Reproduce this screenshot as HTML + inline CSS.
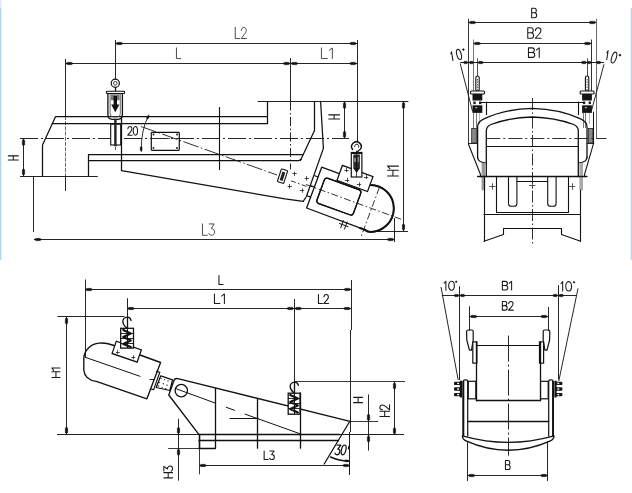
<!DOCTYPE html>
<html><head><meta charset="utf-8"><style>
html,body{margin:0;padding:0;background:#fff;}
body{width:632px;height:493px;overflow:hidden;position:relative;font-family:"Liberation Sans",sans-serif;}
svg{position:absolute;left:0;top:0;}
</style></head><body>
<svg width="632" height="493" viewBox="0 0 632 493">
<rect x="0" y="0" width="632" height="493" fill="#fff"/>
<rect x="0" y="0" width="1" height="8" fill="#dfeaf2"/>
<rect x="0" y="8" width="1" height="252" fill="#b3d4e4"/>
<rect x="1" y="0" width="1" height="260" fill="#e8f3f8"/>
<rect x="631" y="8" width="1" height="252" fill="#b8d8e7"/>
<rect x="630" y="8" width="1" height="252" fill="#eaf4f8"/>
<line x1="115.40" y1="43.50" x2="357.00" y2="43.50" stroke="#1a1a1a" stroke-width="0.95" stroke-linecap="butt"/>
<polygon points="115.70,43.50 117.40,42.23 121.20,42.23 122.60,42.99 122.60,44.01 121.20,44.77 117.40,44.77" fill="#111" stroke="#111" stroke-width="0.3" stroke-linejoin="round"/>
<polygon points="356.70,43.50 355.00,44.77 351.20,44.77 349.80,44.01 349.80,42.99 351.20,42.23 355.00,42.23" fill="#111" stroke="#111" stroke-width="0.3" stroke-linejoin="round"/>
<line x1="115.50" y1="40.00" x2="115.50" y2="79.50" stroke="#1a1a1a" stroke-width="0.95" stroke-linecap="butt"/>
<line x1="357.50" y1="40.00" x2="357.50" y2="141.50" stroke="#1a1a1a" stroke-width="0.95" stroke-linecap="butt"/>
<line x1="65.50" y1="63.50" x2="290.50" y2="63.50" stroke="#1a1a1a" stroke-width="0.95" stroke-linecap="butt"/>
<polygon points="65.80,63.50 67.50,62.23 71.30,62.23 72.70,62.99 72.70,64.01 71.30,64.77 67.50,64.77" fill="#111" stroke="#111" stroke-width="0.3" stroke-linejoin="round"/>
<polygon points="290.20,63.50 288.50,64.77 284.70,64.77 283.30,64.01 283.30,62.99 284.70,62.23 288.50,62.23" fill="#111" stroke="#111" stroke-width="0.3" stroke-linejoin="round"/>
<line x1="290.50" y1="63.50" x2="357.00" y2="63.50" stroke="#1a1a1a" stroke-width="0.95" stroke-linecap="butt"/>
<polygon points="356.70,63.50 355.00,64.77 351.20,64.77 349.80,64.01 349.80,62.99 351.20,62.23 355.00,62.23" fill="#111" stroke="#111" stroke-width="0.3" stroke-linejoin="round"/>
<polygon points="290.80,63.50 292.50,62.23 296.30,62.23 297.70,62.99 297.70,64.01 296.30,64.77 292.50,64.77" fill="#111" stroke="#111" stroke-width="0.3" stroke-linejoin="round"/>
<line x1="65.50" y1="59.00" x2="65.50" y2="116.00" stroke="#1a1a1a" stroke-width="0.95" stroke-linecap="butt"/>
<line x1="65.50" y1="116.00" x2="65.50" y2="176.00" stroke="#444" stroke-width="0.8" stroke-linecap="butt" stroke-dasharray="4 1.2"/>
<line x1="65.50" y1="176.00" x2="65.50" y2="191.00" stroke="#1a1a1a" stroke-width="0.95" stroke-linecap="butt"/>
<line x1="290.50" y1="58.00" x2="290.50" y2="101.50" stroke="#1a1a1a" stroke-width="0.95" stroke-linecap="butt"/>
<line x1="290.50" y1="101.50" x2="290.50" y2="169.50" stroke="#1a1a1a" stroke-width="0.95" stroke-linecap="butt" stroke-dasharray="9 2.5 1.5 2.5"/>
<line x1="34.00" y1="239.50" x2="394.50" y2="239.50" stroke="#1a1a1a" stroke-width="0.95" stroke-linecap="butt"/>
<polygon points="34.30,239.50 36.00,238.24 39.80,238.24 41.20,238.99 41.20,240.01 39.80,240.76 36.00,240.76" fill="#111" stroke="#111" stroke-width="0.3" stroke-linejoin="round"/>
<polygon points="394.20,239.50 392.50,240.76 388.70,240.76 387.30,240.01 387.30,238.99 388.70,238.24 392.50,238.24" fill="#111" stroke="#111" stroke-width="0.3" stroke-linejoin="round"/>
<line x1="33.50" y1="176.00" x2="33.50" y2="232.00" stroke="#1a1a1a" stroke-width="0.95" stroke-linecap="butt"/>
<line x1="394.50" y1="218.00" x2="394.50" y2="242.00" stroke="#1a1a1a" stroke-width="0.95" stroke-linecap="butt"/>
<line x1="23.50" y1="138.50" x2="23.50" y2="176.00" stroke="#1a1a1a" stroke-width="0.95" stroke-linecap="butt"/>
<polygon points="23.50,138.80 24.77,140.50 24.77,144.30 24.01,145.70 22.99,145.70 22.23,144.30 22.23,140.50" fill="#111" stroke="#111" stroke-width="0.3" stroke-linejoin="round"/>
<polygon points="23.50,175.70 22.23,174.00 22.23,170.20 22.99,168.80 24.01,168.80 24.77,170.20 24.77,174.00" fill="#111" stroke="#111" stroke-width="0.3" stroke-linejoin="round"/>
<line x1="344.50" y1="101.50" x2="344.50" y2="138.30" stroke="#1a1a1a" stroke-width="0.95" stroke-linecap="butt"/>
<polygon points="344.50,101.80 345.76,103.50 345.76,107.30 345.01,108.70 343.99,108.70 343.24,107.30 343.24,103.50" fill="#111" stroke="#111" stroke-width="0.3" stroke-linejoin="round"/>
<polygon points="344.50,138.00 343.24,136.30 343.24,132.50 343.99,131.10 345.01,131.10 345.76,132.50 345.76,136.30" fill="#111" stroke="#111" stroke-width="0.3" stroke-linejoin="round"/>
<line x1="403.50" y1="101.50" x2="403.50" y2="231.00" stroke="#1a1a1a" stroke-width="0.95" stroke-linecap="butt"/>
<polygon points="403.50,101.80 404.76,103.50 404.76,107.30 404.01,108.70 402.99,108.70 402.24,107.30 402.24,103.50" fill="#111" stroke="#111" stroke-width="0.3" stroke-linejoin="round"/>
<polygon points="403.50,230.70 402.24,229.00 402.24,225.20 402.99,223.80 404.01,223.80 404.76,225.20 404.76,229.00" fill="#111" stroke="#111" stroke-width="0.3" stroke-linejoin="round"/>
<line x1="366.00" y1="231.50" x2="408.00" y2="231.50" stroke="#1a1a1a" stroke-width="0.95" stroke-linecap="butt"/>
<line x1="20.00" y1="138.50" x2="349.00" y2="138.50" stroke="#1a1a1a" stroke-width="0.95" stroke-linecap="butt" stroke-dasharray="18 3 2 3"/>
<line x1="20.00" y1="176.50" x2="97.80" y2="176.50" stroke="#222" stroke-width="1.0" stroke-linecap="butt"/>
<polyline points="267.20,116.50 55.60,116.50 42.50,145.00 42.50,176.00" fill="none" stroke="#111" stroke-width="1.25" stroke-linejoin="round" stroke-linecap="round"/>
<line x1="52.30" y1="123.50" x2="267.20" y2="123.50" stroke="#111" stroke-width="1.25" stroke-linecap="round"/>
<polyline points="258.00,101.50 408.00,101.50" fill="none" stroke="#222" stroke-width="1.0" stroke-linejoin="round" stroke-linecap="round"/>
<line x1="267.50" y1="101.50" x2="267.50" y2="123.50" stroke="#111" stroke-width="1.25" stroke-linecap="round"/>
<polyline points="314.50,101.50 314.50,130.60 300.40,160.40" fill="none" stroke="#111" stroke-width="1.25" stroke-linejoin="round" stroke-linecap="round"/>
<polyline points="88.50,176.00 88.50,154.50 303.00,154.50" fill="none" stroke="#111" stroke-width="1.25" stroke-linejoin="round" stroke-linecap="round"/>
<polyline points="88.50,160.50 299.00,160.50 301.50,159.00" fill="none" stroke="#111" stroke-width="1.25" stroke-linejoin="round" stroke-linecap="round"/>
<polyline points="320.60,101.50 323.40,148.40 306.40,196.50 303.20,201.40" fill="none" stroke="#111" stroke-width="1.25" stroke-linejoin="round" stroke-linecap="round"/>
<polyline points="121.50,116.30 121.50,170.60 285.00,198.90 303.20,201.40" fill="none" stroke="#111" stroke-width="1.25" stroke-linejoin="round" stroke-linecap="round"/>
<line x1="219.50" y1="107.50" x2="219.50" y2="169.50" stroke="#111" stroke-width="1.1" stroke-linecap="round"/>
<g transform="translate(371.5,207.5) rotate(20)" fill="none" stroke="#111" stroke-width="1.25" stroke-linejoin="round">
<rect x="-53.8" y="-12.5" width="38.8" height="26.8" rx="3"/>
<path d="M-64.7,-10.5 H-60.6 M-64.7,0.2 H-60.6 M-64.7,11 H-60.6" stroke-width="1.1"/>
<path d="M-22,21.5 V30 M-18,21.5 V30 M-25,26 H-15" stroke-width="0.9"/>
</g>
<path d="M339.9,173.8 L321.7,167.2 L306.6,208 L364.5,229.6 Q367.5,231.9 370.3,231.9 A23.5,23.5 0 0 0 393.8,208.4 A23.5,23.5 0 0 0 370.3,184.9" fill="none" stroke="#111" stroke-width="1.3" stroke-linejoin="round" stroke-linecap="round"/>
<path d="M360,228 L364.5,229.6 Q367.5,231.9 370.3,231.9 A23.5,23.5 0 0 0 393.8,208.4 A23.5,23.5 0 0 0 370.3,184.9" fill="none" stroke="#111" stroke-width="2.0" stroke-linejoin="round" stroke-linecap="round"/>
<g transform="translate(371.5,207.5) rotate(20)"><rect x="-41.7" y="-29.6" width="32.5" height="16.0" fill="#fff" stroke="#111" stroke-width="1.25"/><rect x="-53.8" y="-12.5" width="38.8" height="26.8" rx="3" fill="none" stroke="#111" stroke-width="1.25"/></g>
<line x1="306.00" y1="184.50" x2="401.00" y2="219.20" stroke="#1a1a1a" stroke-width="0.9" stroke-linecap="butt" stroke-dasharray="7 2.5 1.5 2.5"/>
<line x1="379.30" y1="187.60" x2="360.80" y2="237.50" stroke="#1a1a1a" stroke-width="0.9" stroke-linecap="butt" stroke-dasharray="7 2.5 1.5 2.5"/>
<line x1="344.30" y1="170.50" x2="348.70" y2="170.50" stroke="#222" stroke-width="0.8" stroke-linecap="butt"/>
<line x1="346.50" y1="167.80" x2="346.50" y2="172.20" stroke="#222" stroke-width="0.8" stroke-linecap="butt"/>
<line x1="344.80" y1="180.50" x2="349.20" y2="180.50" stroke="#222" stroke-width="0.8" stroke-linecap="butt"/>
<line x1="347.50" y1="177.80" x2="347.50" y2="182.20" stroke="#222" stroke-width="0.8" stroke-linecap="butt"/>
<line x1="356.80" y1="184.50" x2="361.20" y2="184.50" stroke="#222" stroke-width="0.8" stroke-linecap="butt"/>
<line x1="359.50" y1="182.30" x2="359.50" y2="186.70" stroke="#222" stroke-width="0.8" stroke-linecap="butt"/>
<line x1="363.80" y1="177.50" x2="368.20" y2="177.50" stroke="#222" stroke-width="0.8" stroke-linecap="butt"/>
<line x1="366.50" y1="174.80" x2="366.50" y2="179.20" stroke="#222" stroke-width="0.8" stroke-linecap="butt"/>
<path d="M352.6,149.5 A4.8,4.8 0 1,1 360.6,149 Q358.4,150.6 356.8,152.5" fill="none" stroke="#111" stroke-width="1.45" stroke-linejoin="round" stroke-linecap="round"/>
<path d="M354.6,146.4 A2.1,2.1 0 1,1 358.6,147.2" fill="none" stroke="#111" stroke-width="1.0" stroke-linejoin="round" stroke-linecap="round"/>
<rect x="351.3" y="152.5" width="10.6" height="24.5" fill="#fff" stroke="#111" stroke-width="1.2"/>
<rect x="351.3" y="152" width="10.6" height="2" fill="#111"/>
<rect x="353.3" y="154.5" width="6.6" height="14" fill="#2a2a2a"/>
<rect x="354.2" y="158" width="1.6" height="4" fill="#999"/>
<rect x="357.6" y="157" width="1.4" height="5" fill="#888"/>
<path d="M353.3,168 L356.6,173 L359.9,168 Z" fill="#111"/>
<line x1="356.50" y1="150.50" x2="356.50" y2="177.00" stroke="#111" stroke-width="0.8" stroke-linecap="butt"/>
<line x1="292.40" y1="173.50" x2="296.80" y2="173.50" stroke="#222" stroke-width="0.8" stroke-linecap="butt"/>
<line x1="294.50" y1="171.60" x2="294.50" y2="176.00" stroke="#222" stroke-width="0.8" stroke-linecap="butt"/>
<line x1="304.60" y1="178.50" x2="309.00" y2="178.50" stroke="#222" stroke-width="0.8" stroke-linecap="butt"/>
<line x1="306.50" y1="176.20" x2="306.50" y2="180.60" stroke="#222" stroke-width="0.8" stroke-linecap="butt"/>
<line x1="287.60" y1="186.50" x2="292.00" y2="186.50" stroke="#222" stroke-width="0.8" stroke-linecap="butt"/>
<line x1="289.50" y1="184.20" x2="289.50" y2="188.60" stroke="#222" stroke-width="0.8" stroke-linecap="butt"/>
<line x1="299.80" y1="190.50" x2="304.20" y2="190.50" stroke="#222" stroke-width="0.8" stroke-linecap="butt"/>
<line x1="302.50" y1="188.40" x2="302.50" y2="192.80" stroke="#222" stroke-width="0.8" stroke-linecap="butt"/>
<g transform="translate(282.5,176.2) rotate(18)"><rect x="-3.3" y="-6.7" width="6.6" height="13.4" rx="0.8" fill="#fff" stroke="#111" stroke-width="1.1"/><rect x="-1.5" y="-4.5" width="3" height="9" fill="#222"/></g>
<line x1="141.00" y1="126.50" x2="277.00" y2="175.00" stroke="#1a1a1a" stroke-width="0.9" stroke-linecap="butt" stroke-dasharray="16 2.5 1.5 2.5"/>
<line x1="291.00" y1="180.80" x2="309.00" y2="187.30" stroke="#1a1a1a" stroke-width="0.9" stroke-linecap="butt" stroke-dasharray="5 2.5 1.5 2.5"/>
<path d="M148.8,115 Q140.5,131 141.3,151.3" fill="none" stroke="#1a1a1a" stroke-width="0.9" stroke-linejoin="round" stroke-linecap="round"/>
<polygon points="141.29,151.20 140.24,150.22 140.12,147.69 140.66,146.73 141.46,146.69 142.10,147.59 142.22,150.12" fill="#111" stroke="#111" stroke-width="0.3" stroke-linejoin="round"/>
<polygon points="148.48,115.77 149.07,116.88 148.23,118.73 147.39,119.16 146.66,118.84 146.43,117.91 147.26,116.07" fill="#111" stroke="#111" stroke-width="0.3" stroke-linejoin="round"/>
<rect x="151.3" y="132.3" width="28" height="18" rx="0.8" fill="none" stroke="#111" stroke-width="1.2"/>
<circle cx="153.5" cy="134.5" r="1.0" fill="#222"/>
<circle cx="177" cy="134.5" r="1.0" fill="#222"/>
<circle cx="153.5" cy="148" r="1.0" fill="#222"/>
<circle cx="177" cy="148" r="1.0" fill="#222"/>
<line x1="153.00" y1="138.50" x2="177.00" y2="138.50" stroke="#333" stroke-width="0.7" stroke-linecap="butt" stroke-dasharray="6 2 1 2"/>
<circle cx="115.30" cy="83.30" r="4.10" fill="none" stroke="#111" stroke-width="1.2"/>
<circle cx="115.30" cy="83.30" r="1.80" fill="none" stroke="#111" stroke-width="0.8"/>
<line x1="115.50" y1="87.40" x2="115.50" y2="91.20" stroke="#111" stroke-width="1.3" stroke-linecap="butt"/>
<rect x="106.4" y="91.2" width="18.2" height="2.3" rx="0.8" fill="#fff" stroke="#111" stroke-width="1.1"/>
<path d="M107.9,93.5 V114.8 Q107.9,119.3 112.2,119.3 H118.2 Q122.4,119.3 122.4,114.8 V93.5" fill="none" stroke="#111" stroke-width="1.3"/>
<path d="M110.1,93.5 V113.8 Q110.1,116.9 113.2,116.9 H117.3 Q120.3,116.9 120.3,113.8 V93.5" fill="none" stroke="#444" stroke-width="0.8"/>
<rect x="111" y="94.3" width="8.6" height="6" fill="#777"/>
<rect x="113.6" y="96" width="3.4" height="9.5" fill="#111"/>
<path d="M111.2,104.6 L119.4,104.6 L115.3,112.2 Z" fill="#111"/>
<rect x="110.7" y="124.2" width="10" height="20.8" fill="#fff" stroke="#111" stroke-width="1.1"/>
<rect x="114.2" y="118.8" width="2.4" height="27.5" fill="#222"/>
<line x1="115.50" y1="147.00" x2="115.50" y2="150.00" stroke="#333" stroke-width="0.8" stroke-linecap="butt"/>
<g transform="translate(240.85,32.95) rotate(0) scale(0.889,1.120) skewX(0) translate(-6.30,-5.00)" fill="none" stroke="#404040" stroke-width="0.95" stroke-linecap="round" stroke-linejoin="round" vector-effect="non-scaling-stroke"><path vector-effect="non-scaling-stroke" transform="translate(0.00,0)" d="M0,0 V10 H5"/><path vector-effect="non-scaling-stroke" transform="translate(6.60,0)" d="M0.2,2.7 C0.4,1 1.5,0 3,0 C4.6,0 5.8,1.1 5.8,2.7 C5.8,4 5,5 3.8,6.2 L0,10 H6"/></g>
<g transform="translate(178.50,53.25) rotate(0) scale(0.820,1.060) skewX(0) translate(-2.50,-5.00)" fill="none" stroke="#404040" stroke-width="0.95" stroke-linecap="round" stroke-linejoin="round" vector-effect="non-scaling-stroke"><path vector-effect="non-scaling-stroke" transform="translate(0.00,0)" d="M0,0 V10 H5"/></g>
<g transform="translate(327.25,53.25) rotate(0) scale(1.184,1.060) skewX(0) translate(-4.90,-5.00)" fill="none" stroke="#404040" stroke-width="0.95" stroke-linecap="round" stroke-linejoin="round" vector-effect="non-scaling-stroke"><path vector-effect="non-scaling-stroke" transform="translate(0.00,0)" d="M0,0 V10 H5"/><path vector-effect="non-scaling-stroke" transform="translate(6.60,0)" d="M0,2.2 L2.6,0 V10"/></g>
<g transform="translate(13.30,157.95) rotate(-90) scale(0.700,1.010) skewX(0) translate(-3.00,-5.00)" fill="none" stroke="#1a1a1a" stroke-width="1.05" stroke-linecap="round" stroke-linejoin="round" vector-effect="non-scaling-stroke"><path vector-effect="non-scaling-stroke" transform="translate(0.00,0)" d="M0,0 V10 M6,0 V10 M0,5 H6"/></g>
<g transform="translate(132.65,130.80) rotate(0) scale(0.721,0.870) skewX(0) translate(-6.80,-5.00)" fill="none" stroke="#1a1a1a" stroke-width="1.05" stroke-linecap="round" stroke-linejoin="round" vector-effect="non-scaling-stroke"><path vector-effect="non-scaling-stroke" transform="translate(0.00,0)" d="M0.2,2.7 C0.4,1 1.5,0 3,0 C4.6,0 5.8,1.1 5.8,2.7 C5.8,4 5,5 3.8,6.2 L0,10 H6"/><path vector-effect="non-scaling-stroke" transform="translate(7.60,0)" d="M3,0 C4.8,0 6,2.2 6,5 C6,7.8 4.8,10 3,10 C1.2,10 0,7.8 0,5 C0,2.2 1.2,0 3,0 Z"/></g>
<g transform="translate(334.15,116.90) rotate(-90) scale(0.683,1.080) skewX(0) translate(-3.00,-5.00)" fill="none" stroke="#1a1a1a" stroke-width="1.05" stroke-linecap="round" stroke-linejoin="round" vector-effect="non-scaling-stroke"><path vector-effect="non-scaling-stroke" transform="translate(0.00,0)" d="M0,0 V10 M6,0 V10 M0,5 H6"/></g>
<g transform="translate(392.95,170.75) rotate(-90) scale(0.963,1.080) skewX(0) translate(-5.40,-5.00)" fill="none" stroke="#1a1a1a" stroke-width="1.05" stroke-linecap="round" stroke-linejoin="round" vector-effect="non-scaling-stroke"><path vector-effect="non-scaling-stroke" transform="translate(0.00,0)" d="M0,0 V10 M6,0 V10 M0,5 H6"/><path vector-effect="non-scaling-stroke" transform="translate(7.60,0)" d="M0,2.2 L2.6,0 V10"/></g>
<g transform="translate(208.50,229.60) rotate(0) scale(0.960,1.130) skewX(0) translate(-6.30,-5.00)" fill="none" stroke="#404040" stroke-width="0.95" stroke-linecap="round" stroke-linejoin="round" vector-effect="non-scaling-stroke"><path vector-effect="non-scaling-stroke" transform="translate(0.00,0)" d="M0,0 V10 H5"/><path vector-effect="non-scaling-stroke" transform="translate(6.60,0)" d="M0.4,0 H5.6 L2.6,4.1 C4.7,4.1 6,5.4 6,7.2 C6,8.9 4.8,10 3,10 C1.6,10 0.6,9.4 0,8.4"/></g>
<line x1="468.50" y1="22.50" x2="596.30" y2="22.50" stroke="#1a1a1a" stroke-width="0.95" stroke-linecap="butt"/>
<polygon points="468.80,22.50 470.50,21.23 474.30,21.23 475.70,21.99 475.70,23.01 474.30,23.77 470.50,23.77" fill="#111" stroke="#111" stroke-width="0.3" stroke-linejoin="round"/>
<polygon points="596.00,22.50 594.30,23.77 590.50,23.77 589.10,23.01 589.10,21.99 590.50,21.23 594.30,21.23" fill="#111" stroke="#111" stroke-width="0.3" stroke-linejoin="round"/>
<line x1="468.50" y1="18.70" x2="468.50" y2="144.20" stroke="#222" stroke-width="0.9" stroke-linecap="butt"/>
<line x1="596.50" y1="18.70" x2="596.50" y2="139.00" stroke="#444" stroke-width="0.8" stroke-linecap="butt"/>
<line x1="473.30" y1="43.50" x2="591.40" y2="43.50" stroke="#1a1a1a" stroke-width="0.95" stroke-linecap="butt"/>
<polygon points="473.60,43.50 475.30,42.23 479.10,42.23 480.50,42.99 480.50,44.01 479.10,44.77 475.30,44.77" fill="#111" stroke="#111" stroke-width="0.3" stroke-linejoin="round"/>
<polygon points="591.10,43.50 589.40,44.77 585.60,44.77 584.20,44.01 584.20,42.99 585.60,42.23 589.40,42.23" fill="#111" stroke="#111" stroke-width="0.3" stroke-linejoin="round"/>
<line x1="473.50" y1="39.50" x2="473.50" y2="91.00" stroke="#555" stroke-width="0.8" stroke-linecap="butt"/>
<line x1="591.50" y1="39.50" x2="591.50" y2="91.00" stroke="#1a1a1a" stroke-width="0.9" stroke-linecap="butt"/>
<line x1="460.20" y1="62.50" x2="604.00" y2="62.50" stroke="#1a1a1a" stroke-width="0.95" stroke-linecap="butt"/>
<polygon points="468.00,62.50 466.97,63.77 464.43,63.77 463.50,63.01 463.50,61.99 464.43,61.23 466.97,61.23" fill="#111" stroke="#111" stroke-width="0.3" stroke-linejoin="round"/>
<polygon points="469.10,62.50 470.13,61.23 472.67,61.23 473.60,61.99 473.60,63.01 472.67,63.77 470.13,63.77" fill="#111" stroke="#111" stroke-width="0.3" stroke-linejoin="round"/>
<polygon points="477.80,62.50 479.10,61.23 482.14,61.23 483.26,61.99 483.26,63.01 482.14,63.77 479.10,63.77" fill="#111" stroke="#111" stroke-width="0.3" stroke-linejoin="round"/>
<polygon points="586.80,62.50 585.50,63.77 582.46,63.77 581.34,63.01 581.34,61.99 582.46,61.23 585.50,61.23" fill="#111" stroke="#111" stroke-width="0.3" stroke-linejoin="round"/>
<polygon points="591.30,62.50 590.27,63.77 587.73,63.77 586.80,63.01 586.80,61.99 587.73,61.23 590.27,61.23" fill="#111" stroke="#111" stroke-width="0.3" stroke-linejoin="round"/>
<polygon points="596.30,62.50 597.33,61.23 599.87,61.23 600.80,61.99 600.80,63.01 599.87,63.77 597.33,63.77" fill="#111" stroke="#111" stroke-width="0.3" stroke-linejoin="round"/>
<line x1="460.20" y1="63.50" x2="472.60" y2="111.50" stroke="#1a1a1a" stroke-width="0.95" stroke-linecap="butt"/>
<line x1="604.00" y1="64.30" x2="591.40" y2="111.00" stroke="#1a1a1a" stroke-width="0.95" stroke-linecap="butt"/>
<line x1="532.50" y1="98.00" x2="532.50" y2="244.00" stroke="#1a1a1a" stroke-width="0.9" stroke-linecap="butt" stroke-dasharray="12 2.5 1.5 2.5"/>
<line x1="477.50" y1="58.30" x2="477.50" y2="76.50" stroke="#222" stroke-width="0.8" stroke-linecap="butt"/>
<rect x="475.80" y="76" width="3.4" height="15.2" rx="1.7" fill="#fff" stroke="#111" stroke-width="1.1"/>
<line x1="477.50" y1="79" x2="477.50" y2="90" stroke="#333" stroke-width="0.8" stroke-dasharray="1.5 1"/>
<rect x="470.50" y="91" width="14" height="3" rx="1" fill="#fff" stroke="#111" stroke-width="1.1"/>
<rect x="472.50" y="94" width="9.8" height="6.5" fill="#151515"/>
<rect x="473.30" y="101.5" width="2.4" height="2.6" fill="#222"/>
<rect x="479.00" y="101.5" width="2.4" height="2.6" fill="#222"/>
<rect x="472.50" y="105.3" width="9.8" height="7.6" fill="#151515"/>
<rect x="475.30" y="107" width="2" height="1.3" fill="#aaa"/>
<line x1="473.50" y1="113.00" x2="473.50" y2="128.00" stroke="#555" stroke-width="0.8" stroke-linecap="butt"/>
<line x1="476.50" y1="113.00" x2="476.50" y2="128.00" stroke="#555" stroke-width="0.8" stroke-linecap="butt"/>
<line x1="479.50" y1="113.00" x2="479.50" y2="124.00" stroke="#888" stroke-width="0.6" stroke-linecap="butt"/>
<line x1="587.50" y1="58.30" x2="587.50" y2="76.50" stroke="#222" stroke-width="0.8" stroke-linecap="butt"/>
<rect x="585.40" y="76" width="3.4" height="15.2" rx="1.7" fill="#fff" stroke="#111" stroke-width="1.1"/>
<line x1="587.10" y1="79" x2="587.10" y2="90" stroke="#333" stroke-width="0.8" stroke-dasharray="1.5 1"/>
<rect x="580.10" y="91" width="14" height="3" rx="1" fill="#fff" stroke="#111" stroke-width="1.1"/>
<rect x="582.10" y="94" width="9.8" height="6.5" fill="#151515"/>
<rect x="582.90" y="101.5" width="2.4" height="2.6" fill="#222"/>
<rect x="588.60" y="101.5" width="2.4" height="2.6" fill="#222"/>
<rect x="582.10" y="105.3" width="9.8" height="7.6" fill="#151515"/>
<rect x="584.90" y="107" width="2" height="1.3" fill="#aaa"/>
<line x1="583.50" y1="113.00" x2="583.50" y2="128.00" stroke="#555" stroke-width="0.8" stroke-linecap="butt"/>
<line x1="585.50" y1="113.00" x2="585.50" y2="128.00" stroke="#555" stroke-width="0.8" stroke-linecap="butt"/>
<line x1="589.50" y1="113.00" x2="589.50" y2="124.00" stroke="#888" stroke-width="0.6" stroke-linecap="butt"/>
<line x1="480.50" y1="102.50" x2="584.20" y2="102.50" stroke="#111" stroke-width="1.1" stroke-linecap="round"/>
<line x1="486.50" y1="102.00" x2="486.50" y2="114.50" stroke="#111" stroke-width="1.1" stroke-linecap="round"/>
<line x1="578.50" y1="102.00" x2="578.50" y2="114.50" stroke="#111" stroke-width="1.1" stroke-linecap="round"/>
<path d="M477.6,158 V127 Q477.6,121.5 484,118.8 Q505,109 532.3,108.3 Q559.5999999999999,109 580.5999999999999,118.8 Q586.9999999999999,121.5 586.9999999999999,127 V158" fill="none" stroke="#111" stroke-width="1.3" stroke-linejoin="round" stroke-linecap="round"/>
<path d="M486.3,176.5 V131 Q486.3,126.5 491,124.5 Q510,117.5 532.3,117 Q554.5999999999999,117.5 573.5999999999999,124.5 Q578.3,126.5 578.3,131 V176.5" fill="none" stroke="#111" stroke-width="1.3" stroke-linejoin="round" stroke-linecap="round"/>
<path d="M477.6,157 Q477.8,162.5 485.4,162.8" fill="none" stroke="#111" stroke-width="1.1" stroke-linejoin="round" stroke-linecap="round"/>
<path d="M586.9999999999999,157 Q586.8,162.5 579.1999999999999,162.8" fill="none" stroke="#111" stroke-width="1.1" stroke-linejoin="round" stroke-linecap="round"/>
<polyline points="468.50,144.20 480.50,174.50 480.50,176.80" fill="none" stroke="#111" stroke-width="1.1" stroke-linejoin="round" stroke-linecap="round"/>
<polyline points="593.50,112.00 593.50,143.60 584.50,174.50 584.50,176.80" fill="none" stroke="#111" stroke-width="1.05" stroke-linejoin="round" stroke-linecap="round"/>
<line x1="468.50" y1="143.50" x2="477.60" y2="143.50" stroke="#111" stroke-width="0.9" stroke-linecap="round"/>
<line x1="593.80" y1="143.50" x2="587.00" y2="143.50" stroke="#111" stroke-width="0.9" stroke-linecap="round"/>
<rect x="471.70" y="128.4" width="4.6" height="14.5" fill="#888" stroke="#222" stroke-width="0.8"/>
<rect x="588.30" y="128.4" width="4.6" height="14.5" fill="#888" stroke="#222" stroke-width="0.8"/>
<rect x="481.6" y="162.8" width="3.6" height="27.5" fill="#999"/>
<rect x="579.40" y="162.8" width="3.6" height="27.5" fill="#aaa"/>
<line x1="486.30" y1="138.50" x2="606.50" y2="138.50" stroke="#1a1a1a" stroke-width="0.9" stroke-linecap="butt" stroke-dasharray="14 3 2 3"/>
<line x1="486.30" y1="146.50" x2="578.30" y2="146.50" stroke="#111" stroke-width="1.1" stroke-linecap="round"/>
<line x1="477.60" y1="176.50" x2="587.00" y2="176.50" stroke="#111" stroke-width="1.3" stroke-linecap="round"/>
<line x1="484.50" y1="176.70" x2="484.50" y2="241.20" stroke="#111" stroke-width="1.1" stroke-linecap="round"/>
<line x1="580.50" y1="190.00" x2="580.50" y2="241.20" stroke="#111" stroke-width="1.1" stroke-linecap="round"/>
<line x1="484.00" y1="214.50" x2="580.60" y2="214.50" stroke="#111" stroke-width="1.1" stroke-linecap="round"/>
<polyline points="496.50,176.70 496.50,212.50 568.50,212.50 568.50,176.70" fill="none" stroke="#111" stroke-width="1.1" stroke-linejoin="round" stroke-linecap="round"/>
<path d="M508.50,176.7 V203.5 Q508.50,206.3 511.30,206.3 H514.10 Q516.90,206.3 516.90,203.5 V176.7" fill="none" stroke="#111" stroke-width="1.1" stroke-linejoin="round" stroke-linecap="round"/>
<path d="M547.70,176.7 V203.5 Q547.70,206.3 550.50,206.3 H553.30 Q556.10,206.3 556.10,203.5 V176.7" fill="none" stroke="#111" stroke-width="1.1" stroke-linejoin="round" stroke-linecap="round"/>
<line x1="516.90" y1="181.50" x2="547.70" y2="181.50" stroke="#111" stroke-width="1.0" stroke-linecap="round"/>
<line x1="489.30" y1="186.50" x2="495.70" y2="186.50" stroke="#333" stroke-width="0.8" stroke-linecap="butt"/>
<line x1="492.50" y1="183.30" x2="492.50" y2="189.70" stroke="#333" stroke-width="0.8" stroke-linecap="butt"/>
<line x1="529.10" y1="185.50" x2="535.50" y2="185.50" stroke="#333" stroke-width="0.8" stroke-linecap="butt"/>
<line x1="532.50" y1="182.40" x2="532.50" y2="188.80" stroke="#333" stroke-width="0.8" stroke-linecap="butt"/>
<line x1="568.90" y1="186.50" x2="575.30" y2="186.50" stroke="#333" stroke-width="0.8" stroke-linecap="butt"/>
<line x1="572.50" y1="183.30" x2="572.50" y2="189.70" stroke="#333" stroke-width="0.8" stroke-linecap="butt"/>
<polyline points="484.00,241.20 503.50,234.60 503.50,228.50 561.50,228.50 561.50,234.60 580.60,241.20" fill="none" stroke="#111" stroke-width="1.1" stroke-linejoin="round" stroke-linecap="round"/>
<g transform="translate(534.15,13.00) rotate(0) scale(0.833,0.950) skewX(0) translate(-3.00,-5.00)" fill="none" stroke="#1a1a1a" stroke-width="1.05" stroke-linecap="round" stroke-linejoin="round" vector-effect="non-scaling-stroke"><path vector-effect="non-scaling-stroke" transform="translate(0.00,0)" d="M0,10 V0 H3.4 C5,0 5.6,1.2 5.6,2.5 C5.6,3.9 4.7,4.8 3.3,4.8 H0 M3.3,4.8 C5.1,4.8 6,6 6,7.4 C6,8.9 5,10 3.5,10 H0"/></g>
<g transform="translate(534.45,33.00) rotate(0) scale(0.985,1.050) skewX(0) translate(-6.80,-5.00)" fill="none" stroke="#1a1a1a" stroke-width="1.05" stroke-linecap="round" stroke-linejoin="round" vector-effect="non-scaling-stroke"><path vector-effect="non-scaling-stroke" transform="translate(0.00,0)" d="M0,10 V0 H3.4 C5,0 5.6,1.2 5.6,2.5 C5.6,3.9 4.7,4.8 3.3,4.8 H0 M3.3,4.8 C5.1,4.8 6,6 6,7.4 C6,8.9 5,10 3.5,10 H0"/><path vector-effect="non-scaling-stroke" transform="translate(7.60,0)" d="M0.2,2.7 C0.4,1 1.5,0 3,0 C4.6,0 5.8,1.1 5.8,2.7 C5.8,4 5,5 3.8,6.2 L0,10 H6"/></g>
<g transform="translate(534.15,52.60) rotate(0) scale(1.056,0.950) skewX(0) translate(-5.40,-5.00)" fill="none" stroke="#1a1a1a" stroke-width="1.05" stroke-linecap="round" stroke-linejoin="round" vector-effect="non-scaling-stroke"><path vector-effect="non-scaling-stroke" transform="translate(0.00,0)" d="M0,10 V0 H3.4 C5,0 5.6,1.2 5.6,2.5 C5.6,3.9 4.7,4.8 3.3,4.8 H0 M3.3,4.8 C5.1,4.8 6,6 6,7.4 C6,8.9 5,10 3.5,10 H0"/><path vector-effect="non-scaling-stroke" transform="translate(7.60,0)" d="M0,2.2 L2.6,0 V10"/></g>
<g transform="translate(451.85,56.20) rotate(0) scale(0.380,0.870) skewX(20) translate(-1.60,-5.00)" fill="none" stroke="#1a1a1a" stroke-width="1.05" stroke-linecap="round" stroke-linejoin="round" vector-effect="non-scaling-stroke"><path vector-effect="non-scaling-stroke" transform="translate(0.00,0)" d="M0,2.2 L2.6,0 V10"/></g>
<g transform="translate(459.00,54.45) rotate(0) scale(0.768,1.020) skewX(18) translate(-3.00,-5.00)" fill="none" stroke="#1a1a1a" stroke-width="1.05" stroke-linecap="round" stroke-linejoin="round" vector-effect="non-scaling-stroke"><path vector-effect="non-scaling-stroke" transform="translate(0.00,0)" d="M3,0 C4.8,0 6,2.2 6,5 C6,7.8 4.8,10 3,10 C1.2,10 0,7.8 0,5 C0,2.2 1.2,0 3,0 Z"/></g>
<circle cx="463.40" cy="49.60" r="0.80" fill="#111" stroke="#111" stroke-width="0.8"/>
<g transform="translate(607.05,55.15) rotate(0) scale(0.380,0.880) skewX(-20) translate(-1.60,-5.00)" fill="none" stroke="#1a1a1a" stroke-width="1.05" stroke-linecap="round" stroke-linejoin="round" vector-effect="non-scaling-stroke"><path vector-effect="non-scaling-stroke" transform="translate(0.00,0)" d="M0,2.2 L2.6,0 V10"/></g>
<g transform="translate(614.00,57.60) rotate(0) scale(0.787,1.090) skewX(-22) translate(-3.00,-5.00)" fill="none" stroke="#1a1a1a" stroke-width="1.05" stroke-linecap="round" stroke-linejoin="round" vector-effect="non-scaling-stroke"><path vector-effect="non-scaling-stroke" transform="translate(0.00,0)" d="M3,0 C4.8,0 6,2.2 6,5 C6,7.8 4.8,10 3,10 C1.2,10 0,7.8 0,5 C0,2.2 1.2,0 3,0 Z"/></g>
<circle cx="620.00" cy="55.20" r="0.90" fill="#111" stroke="#111" stroke-width="0.6"/>
<line x1="85.00" y1="289.50" x2="351.30" y2="289.50" stroke="#1a1a1a" stroke-width="0.95" stroke-linecap="butt"/>
<polygon points="85.30,289.50 87.00,288.24 90.80,288.24 92.20,288.99 92.20,290.01 90.80,290.76 87.00,290.76" fill="#111" stroke="#111" stroke-width="0.3" stroke-linejoin="round"/>
<polygon points="351.00,289.50 349.30,290.76 345.50,290.76 344.10,290.01 344.10,288.99 345.50,288.24 349.30,288.24" fill="#111" stroke="#111" stroke-width="0.3" stroke-linejoin="round"/>
<line x1="85.50" y1="279.50" x2="85.50" y2="357.50" stroke="#1a1a1a" stroke-width="0.95" stroke-linecap="butt"/>
<line x1="351.50" y1="280.00" x2="351.50" y2="330.00" stroke="#1a1a1a" stroke-width="0.95" stroke-linecap="butt"/>
<line x1="350.50" y1="330.00" x2="350.50" y2="432.00" stroke="#1a1a1a" stroke-width="0.95" stroke-linecap="butt"/>
<line x1="349.50" y1="432.00" x2="349.50" y2="475.00" stroke="#1a1a1a" stroke-width="1.0" stroke-linecap="butt"/>
<line x1="127.00" y1="308.50" x2="294.30" y2="308.50" stroke="#1a1a1a" stroke-width="0.95" stroke-linecap="butt"/>
<polygon points="127.30,308.50 129.00,307.24 132.80,307.24 134.20,307.99 134.20,309.01 132.80,309.76 129.00,309.76" fill="#111" stroke="#111" stroke-width="0.3" stroke-linejoin="round"/>
<polygon points="294.00,308.50 292.30,309.76 288.50,309.76 287.10,309.01 287.10,307.99 288.50,307.24 292.30,307.24" fill="#111" stroke="#111" stroke-width="0.3" stroke-linejoin="round"/>
<line x1="294.30" y1="308.50" x2="351.00" y2="308.50" stroke="#1a1a1a" stroke-width="0.95" stroke-linecap="butt"/>
<polygon points="350.70,308.50 349.00,309.76 345.20,309.76 343.80,309.01 343.80,307.99 345.20,307.24 349.00,307.24" fill="#111" stroke="#111" stroke-width="0.3" stroke-linejoin="round"/>
<polygon points="294.60,308.50 296.30,307.24 300.10,307.24 301.50,307.99 301.50,309.01 300.10,309.76 296.30,309.76" fill="#111" stroke="#111" stroke-width="0.3" stroke-linejoin="round"/>
<line x1="127.50" y1="298.20" x2="127.50" y2="317.50" stroke="#1a1a1a" stroke-width="0.95" stroke-linecap="butt"/>
<line x1="294.50" y1="299.00" x2="294.50" y2="382.50" stroke="#1a1a1a" stroke-width="0.95" stroke-linecap="butt"/>
<line x1="66.50" y1="317.00" x2="66.50" y2="434.30" stroke="#1a1a1a" stroke-width="0.95" stroke-linecap="butt"/>
<polygon points="66.50,317.30 67.77,319.00 67.77,322.80 67.01,324.20 65.99,324.20 65.23,322.80 65.23,319.00" fill="#111" stroke="#111" stroke-width="0.3" stroke-linejoin="round"/>
<polygon points="66.50,434.00 65.23,432.30 65.23,428.50 65.99,427.10 67.01,427.10 67.77,428.50 67.77,432.30" fill="#111" stroke="#111" stroke-width="0.3" stroke-linejoin="round"/>
<line x1="57.30" y1="316.50" x2="124.50" y2="316.50" stroke="#1a1a1a" stroke-width="0.95" stroke-linecap="butt"/>
<line x1="57.00" y1="434.50" x2="199.00" y2="434.50" stroke="#222" stroke-width="1.0" stroke-linecap="butt"/>
<line x1="199.00" y1="434.50" x2="340.00" y2="434.50" stroke="#111" stroke-width="1.5" stroke-linecap="butt"/>
<line x1="340.00" y1="434.50" x2="404.00" y2="434.50" stroke="#222" stroke-width="1.0" stroke-linecap="butt"/>
<line x1="178.50" y1="418.80" x2="178.50" y2="480.60" stroke="#1a1a1a" stroke-width="0.95" stroke-linecap="butt"/>
<polygon points="178.50,434.10 177.24,432.40 177.24,428.60 177.99,427.20 179.01,427.20 179.76,428.60 179.76,432.40" fill="#111" stroke="#111" stroke-width="0.3" stroke-linejoin="round"/>
<polygon points="178.50,448.50 179.76,450.20 179.76,454.00 179.01,455.40 177.99,455.40 177.24,454.00 177.24,450.20" fill="#111" stroke="#111" stroke-width="0.3" stroke-linejoin="round"/>
<line x1="168.20" y1="448.50" x2="215.00" y2="448.50" stroke="#222" stroke-width="0.9" stroke-linecap="butt"/>
<line x1="199.00" y1="465.50" x2="350.00" y2="465.50" stroke="#1a1a1a" stroke-width="0.95" stroke-linecap="butt"/>
<polygon points="199.30,465.50 201.00,464.24 204.80,464.24 206.20,464.99 206.20,466.01 204.80,466.76 201.00,466.76" fill="#111" stroke="#111" stroke-width="0.3" stroke-linejoin="round"/>
<polygon points="349.70,465.50 348.00,466.76 344.20,466.76 342.80,466.01 342.80,464.99 344.20,464.24 348.00,464.24" fill="#111" stroke="#111" stroke-width="0.3" stroke-linejoin="round"/>
<line x1="199.50" y1="434.50" x2="199.50" y2="474.30" stroke="#222" stroke-width="0.9" stroke-linecap="butt"/>
<line x1="368.50" y1="394.40" x2="368.50" y2="450.60" stroke="#1a1a1a" stroke-width="0.95" stroke-linecap="butt"/>
<polygon points="368.50,421.00 367.24,419.30 367.24,415.50 367.99,414.10 369.01,414.10 369.76,415.50 369.76,419.30" fill="#111" stroke="#111" stroke-width="0.3" stroke-linejoin="round"/>
<polygon points="368.50,435.30 369.76,437.00 369.76,440.80 369.01,442.20 367.99,442.20 367.24,440.80 367.24,437.00" fill="#111" stroke="#111" stroke-width="0.3" stroke-linejoin="round"/>
<line x1="350.00" y1="421.50" x2="378.20" y2="421.50" stroke="#222" stroke-width="0.9" stroke-linecap="butt"/>
<line x1="394.50" y1="382.00" x2="394.50" y2="434.80" stroke="#1a1a1a" stroke-width="0.95" stroke-linecap="butt"/>
<polygon points="394.50,382.30 395.76,384.00 395.76,387.80 395.01,389.20 393.99,389.20 393.24,387.80 393.24,384.00" fill="#111" stroke="#111" stroke-width="0.3" stroke-linejoin="round"/>
<polygon points="394.50,434.50 393.24,432.80 393.24,429.00 393.99,427.60 395.01,427.60 395.76,429.00 395.76,432.80" fill="#111" stroke="#111" stroke-width="0.3" stroke-linejoin="round"/>
<line x1="295.00" y1="381.50" x2="405.00" y2="381.50" stroke="#222" stroke-width="0.9" stroke-linecap="butt"/>
<path d="M160.6,362.5 L112.5,345 C104,342 94,342 88.5,348 C85.5,351 84,354 83.8,358 L83.8,370 C84.5,377 89,380.5 96.3,381.3 L146.9,398.8 Z" fill="none" stroke="#111" stroke-width="1.35" stroke-linejoin="round" stroke-linecap="round"/>
<line x1="85.00" y1="357.20" x2="140.00" y2="376.30" stroke="#111" stroke-width="1.0" stroke-linecap="round"/>
<g transform="translate(116.3,341.2) rotate(19)"><rect x="0" y="0" width="26.5" height="13" fill="#fff" stroke="#111" stroke-width="1.25"/></g>
<line x1="115.80" y1="352.50" x2="119.80" y2="352.50" stroke="#222" stroke-width="0.8" stroke-linecap="butt"/>
<line x1="117.50" y1="350.20" x2="117.50" y2="354.20" stroke="#222" stroke-width="0.8" stroke-linecap="butt"/>
<line x1="131.20" y1="357.50" x2="135.20" y2="357.50" stroke="#222" stroke-width="0.8" stroke-linecap="butt"/>
<line x1="133.50" y1="355.30" x2="133.50" y2="359.30" stroke="#222" stroke-width="0.8" stroke-linecap="butt"/>
<rect x="120.7" y="328.3" width="12.8" height="19.8" fill="#fff" stroke="#111" stroke-width="1.3"/>
<line x1="120.70" y1="333.50" x2="133.50" y2="333.50" stroke="#111" stroke-width="0.9" stroke-linecap="butt"/>
<line x1="120.70" y1="338.50" x2="133.50" y2="338.50" stroke="#111" stroke-width="0.9" stroke-linecap="butt"/>
<line x1="120.70" y1="343.50" x2="133.50" y2="343.50" stroke="#111" stroke-width="0.9" stroke-linecap="butt"/>
<path d="M123.3,330 L130.7,333.5 L123.3,337 L130.7,340.5 L123.3,344 L130.7,347" fill="none" stroke="#111" stroke-width="2.2" stroke-linejoin="round" stroke-linecap="round"/>
<line x1="127.50" y1="328.30" x2="127.50" y2="348.00" stroke="#111" stroke-width="1.0" stroke-linecap="butt"/>
<path d="M131.1,320.5 Q130,317 127.5,317.2 Q123,317.5 122.8,321.5 Q123,325 126.5,327.8" fill="none" stroke="#111" stroke-width="1.3" stroke-linejoin="round" stroke-linecap="round"/>
<line x1="127.50" y1="316.90" x2="127.50" y2="328.30" stroke="#111" stroke-width="1.3" stroke-linecap="butt"/>
<polyline points="156.50,371.40 159.80,372.20 153.70,389.60 150.40,389.00" fill="none" stroke="#111" stroke-width="1.15" stroke-linejoin="round" stroke-linecap="round"/>
<line x1="150.00" y1="379.50" x2="154.00" y2="379.50" stroke="#111" stroke-width="0.9" stroke-linecap="round"/>
<polygon points="160.80,375.80 172.50,379.80 169.90,390.50 156.20,387.50" fill="none" stroke="#111" stroke-width="1.25" stroke-linejoin="round" stroke-linecap="round"/>
<circle cx="161.2" cy="378.6" r="0.7" fill="#222"/>
<circle cx="164.5" cy="379.6" r="0.7" fill="#222"/>
<circle cx="168" cy="380.9" r="0.7" fill="#222"/>
<circle cx="159.6" cy="382.6" r="0.7" fill="#222"/>
<circle cx="163.3" cy="383.8" r="0.7" fill="#222"/>
<circle cx="167" cy="385.2" r="0.7" fill="#222"/>
<circle cx="158.5" cy="386" r="0.7" fill="#222"/>
<circle cx="162" cy="387.6" r="0.7" fill="#222"/>
<circle cx="165.8" cy="388.8" r="0.7" fill="#222"/>
<path d="M350,421.3 L177.8,378.6 Q174.5,378 173.7,381.2 L168.8,395 L198.8,434.3" fill="none" stroke="#111" stroke-width="1.35" stroke-linejoin="round" stroke-linecap="round"/>
<circle cx="181.30" cy="390.60" r="6.20" fill="none" stroke="#111" stroke-width="1.3"/>
<line x1="176.30" y1="388.80" x2="215.30" y2="403.10" stroke="#111" stroke-width="1.0" stroke-linecap="round"/>
<line x1="226.30" y1="407.30" x2="234.50" y2="410.30" stroke="#111" stroke-width="1.0" stroke-linecap="round"/>
<line x1="245.00" y1="414.10" x2="299.50" y2="433.60" stroke="#111" stroke-width="1.0" stroke-linecap="round"/>
<line x1="215.50" y1="388.50" x2="215.50" y2="448.20" stroke="#111" stroke-width="1.3" stroke-linecap="round"/>
<line x1="257.50" y1="398.90" x2="257.50" y2="448.20" stroke="#111" stroke-width="1.3" stroke-linecap="round"/>
<line x1="300.50" y1="393.00" x2="300.50" y2="448.20" stroke="#111" stroke-width="1.3" stroke-linecap="round"/>
<line x1="230.00" y1="418.50" x2="257.90" y2="418.50" stroke="#111" stroke-width="1.0" stroke-linecap="round"/>
<line x1="199.50" y1="434.50" x2="199.50" y2="448.20" stroke="#111" stroke-width="1.6" stroke-linecap="round"/>
<line x1="199.00" y1="448.50" x2="215.30" y2="448.50" stroke="#111" stroke-width="1.3" stroke-linecap="round"/>
<line x1="199.00" y1="440.50" x2="338.50" y2="440.50" stroke="#111" stroke-width="1.3" stroke-linecap="round"/>
<line x1="349.80" y1="421.30" x2="324.20" y2="464.00" stroke="#111" stroke-width="1.25" stroke-linecap="round"/>
<path d="M330.6,457 Q339,460.8 348.6,461.2" fill="none" stroke="#111" stroke-width="1.4" stroke-linejoin="round" stroke-linecap="round"/>
<polygon points="349.20,460.99 348.12,461.92 345.59,461.80 344.69,461.16 344.73,460.36 345.69,459.82 348.22,459.94" fill="#111" stroke="#111" stroke-width="0.3" stroke-linejoin="round"/>
<rect x="288.2" y="393.2" width="11.8" height="21" fill="#fff" stroke="#111" stroke-width="1.3"/>
<line x1="288.20" y1="398.50" x2="300.00" y2="398.50" stroke="#111" stroke-width="0.9" stroke-linecap="butt"/>
<line x1="288.20" y1="403.50" x2="300.00" y2="403.50" stroke="#111" stroke-width="0.9" stroke-linecap="butt"/>
<line x1="288.20" y1="408.50" x2="300.00" y2="408.50" stroke="#111" stroke-width="0.9" stroke-linecap="butt"/>
<path d="M290.3,395 L297.8,398.5 L290.3,402 L297.8,405.5 L290.3,409 L297.8,412.5" fill="none" stroke="#111" stroke-width="2.2" stroke-linejoin="round" stroke-linecap="round"/>
<line x1="294.50" y1="393.00" x2="294.50" y2="414.00" stroke="#111" stroke-width="1.0" stroke-linecap="butt"/>
<path d="M298.4,385.4 Q297.3,381.9 294.8,382.1 Q290.3,382.4 290.1,386.4 Q290.3,389.9 293.8,392.7" fill="none" stroke="#111" stroke-width="1.3" stroke-linejoin="round" stroke-linecap="round"/>
<line x1="294.50" y1="381.90" x2="294.50" y2="393.20" stroke="#111" stroke-width="1.3" stroke-linecap="butt"/>
<g transform="translate(221.00,280.00) rotate(0) scale(0.820,0.910) skewX(0) translate(-2.50,-5.00)" fill="none" stroke="#1a1a1a" stroke-width="1.05" stroke-linecap="round" stroke-linejoin="round" vector-effect="non-scaling-stroke"><path vector-effect="non-scaling-stroke" transform="translate(0.00,0)" d="M0,0 V10 H5"/></g>
<g transform="translate(219.75,298.75) rotate(0) scale(1.082,0.960) skewX(0) translate(-4.90,-5.00)" fill="none" stroke="#1a1a1a" stroke-width="1.05" stroke-linecap="round" stroke-linejoin="round" vector-effect="non-scaling-stroke"><path vector-effect="non-scaling-stroke" transform="translate(0.00,0)" d="M0,0 V10 H5"/><path vector-effect="non-scaling-stroke" transform="translate(6.60,0)" d="M0,2.2 L2.6,0 V10"/></g>
<g transform="translate(323.50,299.00) rotate(0) scale(0.802,0.910) skewX(0) translate(-6.30,-5.00)" fill="none" stroke="#1a1a1a" stroke-width="1.05" stroke-linecap="round" stroke-linejoin="round" vector-effect="non-scaling-stroke"><path vector-effect="non-scaling-stroke" transform="translate(0.00,0)" d="M0,0 V10 H5"/><path vector-effect="non-scaling-stroke" transform="translate(6.60,0)" d="M0.2,2.7 C0.4,1 1.5,0 3,0 C4.6,0 5.8,1.1 5.8,2.7 C5.8,4 5,5 3.8,6.2 L0,10 H6"/></g>
<g transform="translate(55.95,372.40) rotate(-90) scale(0.935,0.820) skewX(0) translate(-5.40,-5.00)" fill="none" stroke="#1a1a1a" stroke-width="1.05" stroke-linecap="round" stroke-linejoin="round" vector-effect="non-scaling-stroke"><path vector-effect="non-scaling-stroke" transform="translate(0.00,0)" d="M0,0 V10 M6,0 V10 M0,5 H6"/><path vector-effect="non-scaling-stroke" transform="translate(7.60,0)" d="M0,2.2 L2.6,0 V10"/></g>
<g transform="translate(168.20,471.95) rotate(-90) scale(0.868,0.870) skewX(0) translate(-6.80,-5.00)" fill="none" stroke="#1a1a1a" stroke-width="1.05" stroke-linecap="round" stroke-linejoin="round" vector-effect="non-scaling-stroke"><path vector-effect="non-scaling-stroke" transform="translate(0.00,0)" d="M0,0 V10 M6,0 V10 M0,5 H6"/><path vector-effect="non-scaling-stroke" transform="translate(7.60,0)" d="M0.4,0 H5.6 L2.6,4.1 C4.7,4.1 6,5.4 6,7.2 C6,8.9 4.8,10 3,10 C1.6,10 0.6,9.4 0,8.4"/></g>
<g transform="translate(269.25,455.30) rotate(0) scale(0.810,0.850) skewX(0) translate(-6.30,-5.00)" fill="none" stroke="#1a1a1a" stroke-width="1.05" stroke-linecap="round" stroke-linejoin="round" vector-effect="non-scaling-stroke"><path vector-effect="non-scaling-stroke" transform="translate(0.00,0)" d="M0,0 V10 H5"/><path vector-effect="non-scaling-stroke" transform="translate(6.60,0)" d="M0.4,0 H5.6 L2.6,4.1 C4.7,4.1 6,5.4 6,7.2 C6,8.9 4.8,10 3,10 C1.6,10 0.6,9.4 0,8.4"/></g>
<g transform="translate(358.10,400.00) rotate(-90) scale(0.883,0.910) skewX(0) translate(-3.00,-5.00)" fill="none" stroke="#1a1a1a" stroke-width="1.05" stroke-linecap="round" stroke-linejoin="round" vector-effect="non-scaling-stroke"><path vector-effect="non-scaling-stroke" transform="translate(0.00,0)" d="M0,0 V10 M6,0 V10 M0,5 H6"/></g>
<g transform="translate(384.70,410.65) rotate(-90) scale(0.853,0.970) skewX(0) translate(-6.80,-5.00)" fill="none" stroke="#1a1a1a" stroke-width="1.05" stroke-linecap="round" stroke-linejoin="round" vector-effect="non-scaling-stroke"><path vector-effect="non-scaling-stroke" transform="translate(0.00,0)" d="M0,0 V10 M6,0 V10 M0,5 H6"/><path vector-effect="non-scaling-stroke" transform="translate(7.60,0)" d="M0.2,2.7 C0.4,1 1.5,0 3,0 C4.6,0 5.8,1.1 5.8,2.7 C5.8,4 5,5 3.8,6.2 L0,10 H6"/></g>
<g transform="translate(340.80,449.90) rotate(0) scale(0.756,0.970) skewX(-15) translate(-6.80,-5.00)" fill="none" stroke="#1a1a1a" stroke-width="1.3" stroke-linecap="round" stroke-linejoin="round" vector-effect="non-scaling-stroke"><path vector-effect="non-scaling-stroke" transform="translate(0.00,0)" d="M0.4,0 H5.6 L2.6,4.1 C4.7,4.1 6,5.4 6,7.2 C6,8.9 4.8,10 3,10 C1.6,10 0.6,9.4 0,8.4"/><path vector-effect="non-scaling-stroke" transform="translate(7.60,0)" d="M3,0 C4.8,0 6,2.2 6,5 C6,7.8 4.8,10 3,10 C1.2,10 0,7.8 0,5 C0,2.2 1.2,0 3,0 Z"/></g>
<path d="M348.8,446.3 L348.3,449" stroke="#111" stroke-width="1.1" stroke-linecap="round"/>
<line x1="441.90" y1="295.50" x2="576.50" y2="295.50" stroke="#1a1a1a" stroke-width="0.95" stroke-linecap="butt"/>
<polygon points="459.90,295.50 461.07,294.24 463.85,294.24 464.88,294.99 464.88,296.01 463.85,296.76 461.07,296.76" fill="#111" stroke="#111" stroke-width="0.3" stroke-linejoin="round"/>
<polygon points="459.10,295.50 457.93,296.76 455.15,296.76 454.12,296.01 454.12,294.99 455.15,294.24 457.93,294.24" fill="#111" stroke="#111" stroke-width="0.3" stroke-linejoin="round"/>
<polygon points="557.80,295.50 556.63,296.76 553.85,296.76 552.82,296.01 552.82,294.99 553.85,294.24 556.63,294.24" fill="#111" stroke="#111" stroke-width="0.3" stroke-linejoin="round"/>
<polygon points="558.60,295.50 559.77,294.24 562.55,294.24 563.58,294.99 563.58,296.01 562.55,296.76 559.77,296.76" fill="#111" stroke="#111" stroke-width="0.3" stroke-linejoin="round"/>
<line x1="459.50" y1="286.20" x2="459.50" y2="380.00" stroke="#1a1a1a" stroke-width="0.95" stroke-linecap="butt"/>
<line x1="558.50" y1="285.00" x2="558.50" y2="379.50" stroke="#1a1a1a" stroke-width="0.95" stroke-linecap="butt"/>
<line x1="441.00" y1="287.00" x2="458.20" y2="380.10" stroke="#1a1a1a" stroke-width="0.95" stroke-linecap="butt"/>
<line x1="578.00" y1="288.50" x2="558.80" y2="381.00" stroke="#1a1a1a" stroke-width="0.95" stroke-linecap="butt"/>
<line x1="469.70" y1="316.50" x2="548.00" y2="316.50" stroke="#1a1a1a" stroke-width="0.95" stroke-linecap="butt"/>
<polygon points="470.00,316.50 471.70,315.24 475.50,315.24 476.90,315.99 476.90,317.01 475.50,317.76 471.70,317.76" fill="#111" stroke="#111" stroke-width="0.3" stroke-linejoin="round"/>
<polygon points="547.70,316.50 546.00,317.76 542.20,317.76 540.80,317.01 540.80,315.99 542.20,315.24 546.00,315.24" fill="#111" stroke="#111" stroke-width="0.3" stroke-linejoin="round"/>
<line x1="469.50" y1="306.30" x2="469.50" y2="330.50" stroke="#1a1a1a" stroke-width="0.95" stroke-linecap="butt"/>
<line x1="548.50" y1="307.00" x2="548.50" y2="331.00" stroke="#1a1a1a" stroke-width="0.95" stroke-linecap="butt"/>
<line x1="508.50" y1="335.60" x2="508.50" y2="455.60" stroke="#1a1a1a" stroke-width="0.95" stroke-linecap="butt" stroke-dasharray="26 3 2 3"/>
<path d="M466.6,331.5 Q466.6,330 468.5,330 H471.8 Q473.2,330 473.2,331.5 V340 L471.5,350.2 H469.4 L466.8,340 Z" fill="none" stroke="#111" stroke-width="1.2" stroke-linejoin="round" stroke-linecap="round"/>
<path d="M549.8,331.5 Q549.8,330 547.9,330 H544.5999999999999 Q543.2,330 543.2,331.5 V340 L544.9,350.2 H547.0 L549.5999999999999,340 Z" fill="none" stroke="#111" stroke-width="1.2" stroke-linejoin="round" stroke-linecap="round"/>
<rect x="472.8" y="341.9" width="4.1" height="21.2" fill="#fff" stroke="#111" stroke-width="1.2"/>
<rect x="539.50" y="341.9" width="4.1" height="21.2" fill="#fff" stroke="#111" stroke-width="1.2"/>
<line x1="476.90" y1="345.50" x2="539.50" y2="345.50" stroke="#111" stroke-width="1.2" stroke-linecap="round"/>
<line x1="476.50" y1="342.00" x2="476.50" y2="400.70" stroke="#111" stroke-width="1.3" stroke-linecap="round"/>
<line x1="540.50" y1="342.00" x2="540.50" y2="400.70" stroke="#111" stroke-width="1.3" stroke-linecap="round"/>
<line x1="476.40" y1="400.50" x2="540.00" y2="400.50" stroke="#111" stroke-width="1.3" stroke-linecap="round"/>
<rect x="468.2" y="381.3" width="7.6" height="17.5" fill="#fff" stroke="#111" stroke-width="1.2"/>
<rect x="540.60" y="381.3" width="7.6" height="17.5" fill="#fff" stroke="#111" stroke-width="1.2"/>
<path d="M463.3,436 V381.6 Q463.3,379.8 465,379.8 H466 Q467.7,379.8 467.7,381.6 V436" fill="none" stroke="#111" stroke-width="1.2" stroke-linejoin="round" stroke-linecap="round"/>
<rect x="462.4" y="381" width="1.9" height="55" fill="#111"/>
<path d="M553.0999999999999,436 V381.6 Q553.0999999999999,379.8 551.4,379.8 H550.4 Q548.7,379.8 548.7,381.6 V436" fill="none" stroke="#111" stroke-width="1.2" stroke-linejoin="round" stroke-linecap="round"/>
<rect x="552.10" y="381" width="1.9" height="55" fill="#111"/>
<rect x="459.80" y="380.70" width="2.20" height="16.80" rx="0" fill="#151515"/>
<rect x="454.00" y="381.70" width="7.50" height="3.40" rx="1.2" fill="#151515"/>
<rect x="457.20" y="382.70" width="1.80" height="1.40" rx="0" fill="#fff"/>
<rect x="454.00" y="387.30" width="7.50" height="3.40" rx="1.2" fill="#151515"/>
<rect x="457.20" y="388.30" width="1.80" height="1.40" rx="0" fill="#fff"/>
<rect x="454.00" y="392.90" width="7.50" height="3.40" rx="1.2" fill="#151515"/>
<rect x="457.20" y="393.90" width="1.80" height="1.40" rx="0" fill="#fff"/>
<rect x="554.40" y="380.70" width="2.20" height="16.80" rx="0" fill="#151515"/>
<rect x="554.90" y="381.70" width="7.50" height="3.40" rx="1.2" fill="#151515"/>
<rect x="557.40" y="382.70" width="1.80" height="1.40" rx="0" fill="#fff"/>
<rect x="554.90" y="387.30" width="7.50" height="3.40" rx="1.2" fill="#151515"/>
<rect x="557.40" y="388.30" width="1.80" height="1.40" rx="0" fill="#fff"/>
<rect x="554.90" y="392.90" width="7.50" height="3.40" rx="1.2" fill="#151515"/>
<rect x="557.40" y="393.90" width="1.80" height="1.40" rx="0" fill="#fff"/>
<line x1="467.70" y1="421.50" x2="548.70" y2="421.50" stroke="#111" stroke-width="1.3" stroke-linecap="round"/>
<path d="M463.3,436.1 Q508.2,448.6 553.0999999999999,436.1" fill="none" stroke="#111" stroke-width="1.35" stroke-linejoin="round" stroke-linecap="round"/>
<path d="M462.4,436 Q462.6,439.5 466,440.8 Q508.2,459.6 550.4,440.8 Q553.8,439.5 554.0,436" fill="none" stroke="#111" stroke-width="1.4" stroke-linejoin="round" stroke-linecap="round"/>
<line x1="467.70" y1="475.50" x2="547.90" y2="475.50" stroke="#1a1a1a" stroke-width="0.95" stroke-linecap="butt"/>
<polygon points="468.00,475.50 469.70,474.24 473.50,474.24 474.90,474.99 474.90,476.01 473.50,476.76 469.70,476.76" fill="#111" stroke="#111" stroke-width="0.3" stroke-linejoin="round"/>
<polygon points="547.60,475.50 545.90,476.76 542.10,476.76 540.70,476.01 540.70,474.99 542.10,474.24 545.90,474.24" fill="#111" stroke="#111" stroke-width="0.3" stroke-linejoin="round"/>
<line x1="467.50" y1="441.00" x2="467.50" y2="481.00" stroke="#1a1a1a" stroke-width="0.95" stroke-linecap="butt"/>
<line x1="547.50" y1="441.00" x2="547.50" y2="481.00" stroke="#1a1a1a" stroke-width="0.95" stroke-linecap="butt"/>
<g transform="translate(445.20,285.70) rotate(0) scale(0.719,0.890) skewX(0) translate(-1.60,-5.00)" fill="none" stroke="#1a1a1a" stroke-width="1.05" stroke-linecap="round" stroke-linejoin="round" vector-effect="non-scaling-stroke"><path vector-effect="non-scaling-stroke" transform="translate(0.00,0)" d="M0,2.2 L2.6,0 V10"/></g>
<g transform="translate(451.50,285.70) rotate(0) scale(0.950,0.890) skewX(0) translate(-3.00,-5.00)" fill="none" stroke="#1a1a1a" stroke-width="1.05" stroke-linecap="round" stroke-linejoin="round" vector-effect="non-scaling-stroke"><path vector-effect="non-scaling-stroke" transform="translate(0.00,0)" d="M3,0 C4.8,0 6,2.2 6,5 C6,7.8 4.8,10 3,10 C1.2,10 0,7.8 0,5 C0,2.2 1.2,0 3,0 Z"/></g>
<circle cx="456.20" cy="281.80" r="0.80" fill="#111" stroke="#111" stroke-width="0.6"/>
<g transform="translate(562.00,286.35) rotate(0) scale(0.656,0.940) skewX(0) translate(-1.60,-5.00)" fill="none" stroke="#1a1a1a" stroke-width="1.05" stroke-linecap="round" stroke-linejoin="round" vector-effect="non-scaling-stroke"><path vector-effect="non-scaling-stroke" transform="translate(0.00,0)" d="M0,2.2 L2.6,0 V10"/></g>
<g transform="translate(568.65,286.35) rotate(0) scale(0.967,0.940) skewX(0) translate(-3.00,-5.00)" fill="none" stroke="#1a1a1a" stroke-width="1.05" stroke-linecap="round" stroke-linejoin="round" vector-effect="non-scaling-stroke"><path vector-effect="non-scaling-stroke" transform="translate(0.00,0)" d="M3,0 C4.8,0 6,2.2 6,5 C6,7.8 4.8,10 3,10 C1.2,10 0,7.8 0,5 C0,2.2 1.2,0 3,0 Z"/></g>
<circle cx="574.00" cy="282.30" r="0.80" fill="#111" stroke="#111" stroke-width="0.6"/>
<g transform="translate(507.25,285.70) rotate(0) scale(0.907,0.870) skewX(0) translate(-5.40,-5.00)" fill="none" stroke="#1a1a1a" stroke-width="1.05" stroke-linecap="round" stroke-linejoin="round" vector-effect="non-scaling-stroke"><path vector-effect="non-scaling-stroke" transform="translate(0.00,0)" d="M0,10 V0 H3.4 C5,0 5.6,1.2 5.6,2.5 C5.6,3.9 4.7,4.8 3.3,4.8 H0 M3.3,4.8 C5.1,4.8 6,6 6,7.4 C6,8.9 5,10 3.5,10 H0"/><path vector-effect="non-scaling-stroke" transform="translate(7.60,0)" d="M0,2.2 L2.6,0 V10"/></g>
<g transform="translate(507.80,305.80) rotate(0) scale(0.801,0.870) skewX(0) translate(-6.80,-5.00)" fill="none" stroke="#1a1a1a" stroke-width="1.05" stroke-linecap="round" stroke-linejoin="round" vector-effect="non-scaling-stroke"><path vector-effect="non-scaling-stroke" transform="translate(0.00,0)" d="M0,10 V0 H3.4 C5,0 5.6,1.2 5.6,2.5 C5.6,3.9 4.7,4.8 3.3,4.8 H0 M3.3,4.8 C5.1,4.8 6,6 6,7.4 C6,8.9 5,10 3.5,10 H0"/><path vector-effect="non-scaling-stroke" transform="translate(7.60,0)" d="M0.2,2.7 C0.4,1 1.5,0 3,0 C4.6,0 5.8,1.1 5.8,2.7 C5.8,4 5,5 3.8,6.2 L0,10 H6"/></g>
<g transform="translate(507.80,465.00) rotate(0) scale(0.783,0.910) skewX(0) translate(-3.00,-5.00)" fill="none" stroke="#1a1a1a" stroke-width="1.05" stroke-linecap="round" stroke-linejoin="round" vector-effect="non-scaling-stroke"><path vector-effect="non-scaling-stroke" transform="translate(0.00,0)" d="M0,10 V0 H3.4 C5,0 5.6,1.2 5.6,2.5 C5.6,3.9 4.7,4.8 3.3,4.8 H0 M3.3,4.8 C5.1,4.8 6,6 6,7.4 C6,8.9 5,10 3.5,10 H0"/></g>
</svg>
</body></html>
